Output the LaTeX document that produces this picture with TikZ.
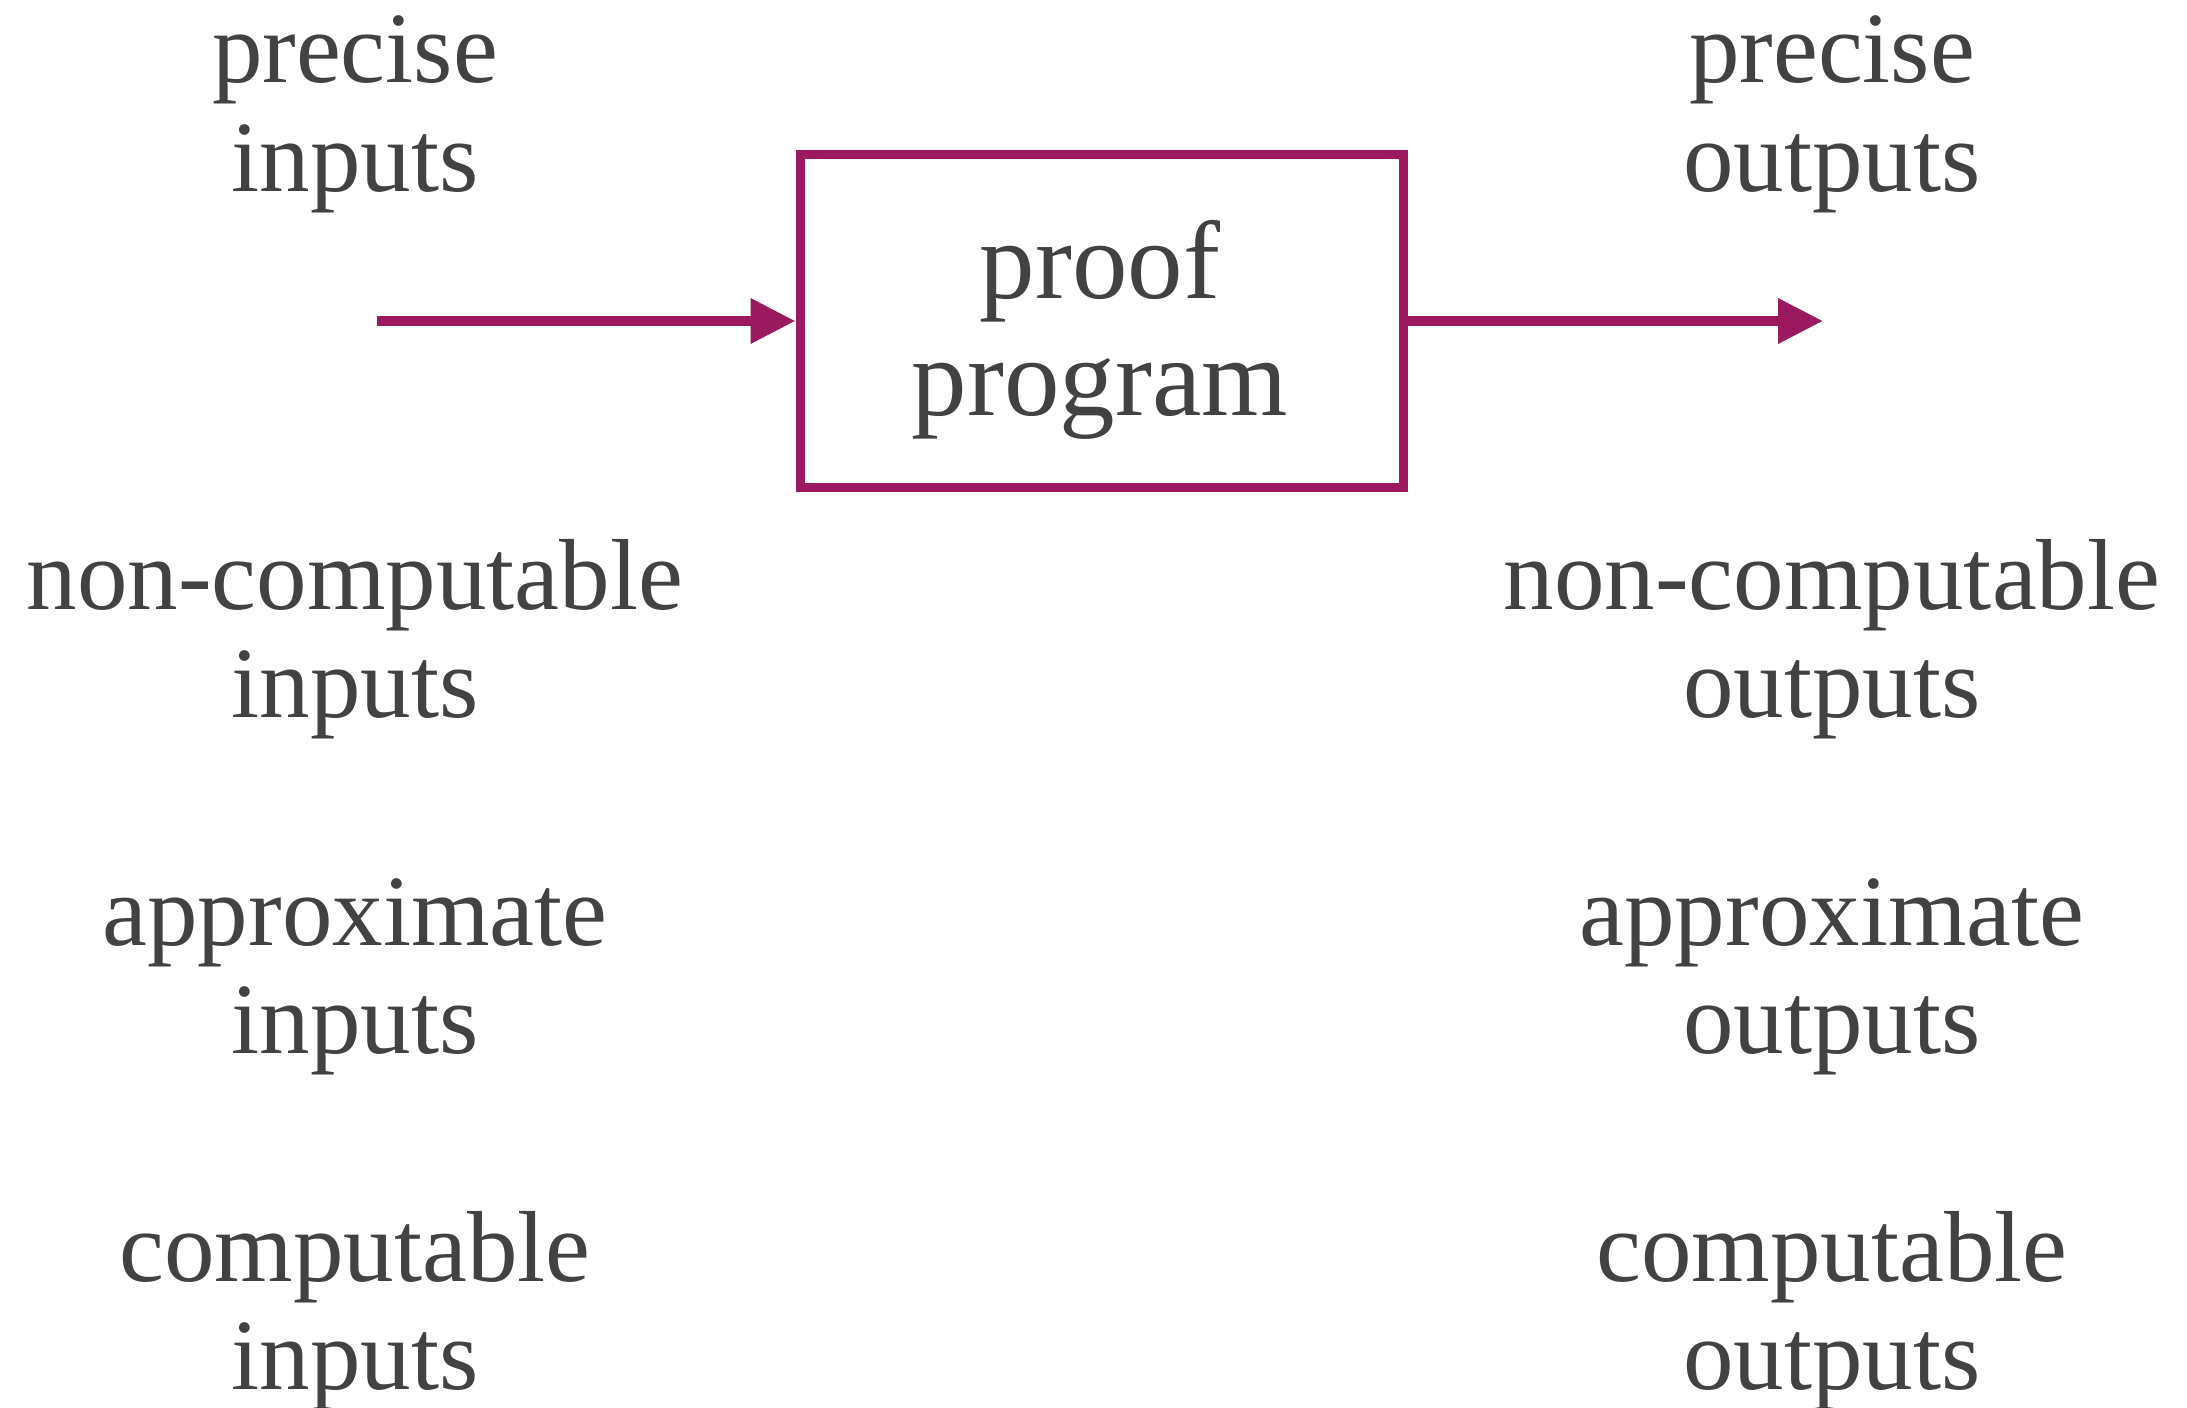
\documentclass[tikz,border=0pt]{standalone}
\usepackage{fontspec}
\setmainfont{Liberation Serif}
\usetikzlibrary{arrows.meta}
\definecolor{txtgray}{RGB}{66,66,66}
\definecolor{plum}{RGB}{155,25,95}
\begin{document}
\begin{tikzpicture}[x=0.5bp,y=-0.5bp,
  lbl/.style={anchor=base,inner sep=0pt,text=txtgray,font=\fontsize{50.5bp}{54bp}\selectfont},
  boxlbl/.style={anchor=base,inner sep=0pt,text=txtgray,font=\fontsize{55.5bp}{58bp}\selectfont},
  progbox/.style={draw=plum,line width=4.5bp,minimum width=301.5bp,minimum height=166bp,inner sep=0pt},
  flow/.style={draw=plum,line width=5bp,-{Triangle[length=22.5bp,width=21.5bp]}}]
\useasboundingbox (0,0) rectangle (2187,1408);
% box
\node[progbox] (box) at (1101.5,321) {};
\node[boxlbl] (bt1) at (1100,298) {proof};
\node[boxlbl] (bt2) at (1100,415) {program};
% arrows
\coordinate (inStart) at (377,321);
\coordinate (outEnd) at (1823,321);
\draw[flow] (inStart) -- (box.west);
\draw[flow] (box.east) -- (outEnd);
% left column
\node[lbl] (l1a) at (355,83) {precise};
\node[lbl] (l1b) at (355,191) {inputs};
\node[lbl] (l2a) at (355,609) {non-computable};
\node[lbl] (l2b) at (355,717) {inputs};
\node[lbl] (l3a) at (355,945) {approximate};
\node[lbl] (l3b) at (355,1053) {inputs};
\node[lbl] (l4a) at (355,1281) {computable};
\node[lbl] (l4b) at (355,1389) {inputs};
% right column
\node[lbl] (r1a) at (1832,83) {precise};
\node[lbl] (r1b) at (1832,191) {outputs};
\node[lbl] (r2a) at (1832,609) {non-computable};
\node[lbl] (r2b) at (1832,717) {outputs};
\node[lbl] (r3a) at (1832,945) {approximate};
\node[lbl] (r3b) at (1832,1053) {outputs};
\node[lbl] (r4a) at (1832,1281) {computable};
\node[lbl] (r4b) at (1832,1389) {outputs};
\end{tikzpicture}
\end{document}
